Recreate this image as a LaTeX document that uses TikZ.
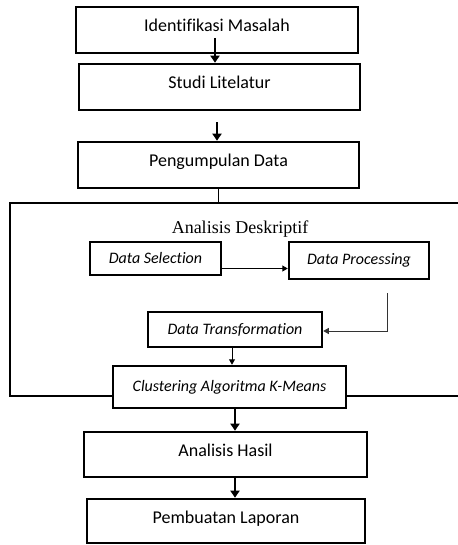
\documentclass[tikz,border=0pt]{standalone}
\usepackage{fontspec}
\setmainfont{Carlito}[Ligatures=NoCommon]
\newfontfamily\titleserif{Liberation Serif}
\usetikzlibrary{arrows.meta}

\tikzset{
  stage/.style={draw, line width=2.6bp, fill=white, inner sep=0pt,
    text height=12bp, text depth=8bp,
    font=\fontsize{18bp}{20bp}\selectfont},
  substage/.style={draw, line width=2.5bp, fill=white, inner sep=0pt,
    font=\fontsize{16bp}{18bp}\selectfont\itshape},
  frameline/.style={line width=2.2bp, line cap=butt},
  bigarrow/.style={line width=2.5bp, -{Triangle[width=9bp,length=7bp]}},
  smallarrow/.style={line width=1.1bp, -{Triangle[width=6bp,length=5.5bp]}},
  plainline/.style={line width=1bp}
}

\begin{document}
\begin{tikzpicture}[x=1bp,y=-1bp]
\useasboundingbox (0,0) rectangle (458,545);

% outer frame of the descriptive-analysis stage (open on the right)
\coordinate (ftl) at (10,203);
\coordinate (ftr) at (458,203);
\coordinate (fbl) at (10,396);
\coordinate (fbr) at (458,396);
\draw[frameline] (ftr) -- (ftl) -- (fbl) -- (fbr);

% main stages
\node[stage, minimum width=282bp, minimum height=46bp] (b1) at (217,30) {Identifikasi Masalah};
\node[stage, minimum width=281bp, minimum height=46bp] (b2) at (219.5,87) {Studi Litelatur};
\node[stage, minimum width=281bp, minimum height=46bp] (b3) at (218.5,165) {Pengumpulan Data};

\node[font=\titleserif\fontsize{18bp}{20bp}\selectfont] (title) at (240,229) {Analisis Deskriptif};

% sub-stages inside the frame
\node[substage, minimum width=131bp, minimum height=33bp] (ds) at (155.5,258.5) {Data Selection};
\node[substage, minimum width=140bp, minimum height=37bp] (dp) at (359,260.5) {Data Processing};
\node[substage, minimum width=174bp, minimum height=35bp] (dt) at (235,329.5) {Data Transformation};
\node[substage, minimum width=233bp, minimum height=42bp] (ck) at (229.5,387) {Clustering Algoritma K-Means};

\node[stage, minimum width=283bp, minimum height=45bp] (ah) at (225.5,454.5) {Analisis Hasil};
\node[stage, minimum width=278bp, minimum height=44bp] (pl) at (226,521) {Pembuatan Laporan};

% connectors between the main stages
\coordinate (a1) at ([xshift=-2bp,yshift=-8bp]b1.center);
\draw[bigarrow] (a1) -- (a1 |- b2.north);
\coordinate (a2) at ([xshift=-2.5bp,yshift=-11bp]b2.south);
\draw[bigarrow] (a2) -- (a2 |- b3.north);
\draw[plainline] (b3.south) -- (b3.south |- ftl);

% connectors between the sub-stages
\coordinate (s1) at ([yshift=-10bp]ds.east);
\draw[smallarrow] (s1) -- (s1 -| dp.west);
\coordinate (dpout) at ([xshift=28bp,yshift=-13bp]dp.south);
\coordinate (dtin) at ([yshift=-1.5bp]dt.east);
\draw[smallarrow, line width=1bp, draw=black!80] (dpout) |- (dtin);
\coordinate (s3) at ([xshift=-3bp]dt.south);
\draw[smallarrow, line width=1bp] (s3) -- (s3 |- ck.north);

% connectors after clustering
\coordinate (a3) at ([xshift=5.5bp]ck.south);
\draw[bigarrow] (a3) -- (a3 |- ah.north);
\coordinate (a4) at ([xshift=9.5bp]ah.south);
\draw[bigarrow] (a4) -- (a4 |- pl.north);
\end{tikzpicture}
\end{document}
